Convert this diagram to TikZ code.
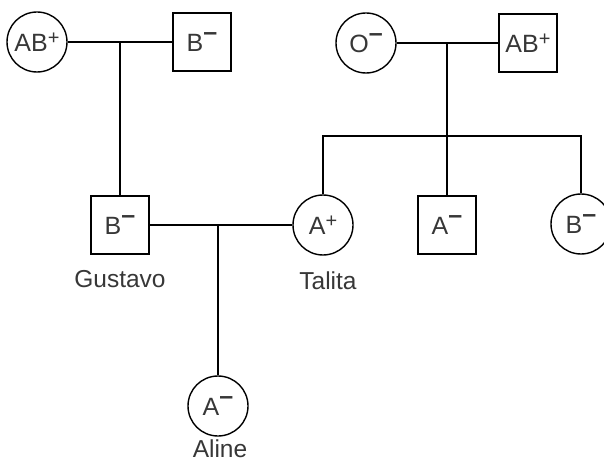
\documentclass[tikz,border=0pt]{standalone}
\usepackage{fontspec}
\setmainfont{Liberation Sans}
\usetikzlibrary{positioning,calc}
\definecolor{labelgray}{RGB}{55,55,55}
\newcommand{\rhpos}{\raisebox{0.3em}{\fontsize{20}{20}\selectfont +}}
\newcommand{\rhneg}{\raisebox{0.42em}{\bfseries –}}

\begin{document}
\begin{tikzpicture}[
  x=1pt, y=-1pt,
  line width=1.4pt,
  person/.style={
    draw,
    inner sep=0pt,
    text=labelgray,
    font=\fontsize{25}{30}\selectfont
  },
  female/.style={person, circle, minimum size=60pt},
  male/.style={person, rectangle, minimum size=58pt},
  namelabel/.style={
    inner sep=0pt,
    text=labelgray,
    font=\fontsize{24.5}{29}\selectfont
  }
]
\clip (0,0) rectangle (604,462);

% -------- Grandparents (left) --------
\node[female] (gma1) at (37,42) {AB\rhpos};
\node[male] (gpa1) at (202,42) {B\rhneg};
\draw (gma1) -- (gpa1);
\coordinate (cpl1) at ($(gma1)!0.5!(gpa1)$);

% -------- Grandparents (right) --------
\node[female] (gma2) at (366,43) {O\rhneg};
\node[male] (gpa2) at (528,43) {AB\rhpos};
\draw (gma2) -- (gpa2);
\coordinate (cpl2) at ($(gma2)!0.5!(gpa2)$);
\coordinate (sibs) at (447,136);

% -------- Parents and siblings --------
\node[male] (gus) at (120,225) {B\rhneg};
\node[female] (tal) at (323,225) {A\rhpos};
\node[male] (bro) at (447,225) {A\rhneg};
\node[female] (sis) at (581,224) {B\rhneg};
\draw (gus.north |- cpl1) -- (gus.north);
\draw (cpl2) -- (bro.north);
\draw (tal.north) -- (tal.north |- sibs) -- (sis.north |- sibs) -- (sis.north);
\draw (gus) -- (tal);

% -------- Child --------
\node[female] (ali) at (218,406) {A\rhneg};
\draw (ali.north |- gus) -- (ali.north);

% -------- Names --------
\node[namelabel, below=15pt of gus] (gusname) {Gustavo};
\node[namelabel, below=15pt of tal, xshift=5pt] (talname) {Talita};
\node[namelabel, below=2pt of ali, xshift=2pt] (aliname) {Aline};

\end{tikzpicture}
\end{document}
